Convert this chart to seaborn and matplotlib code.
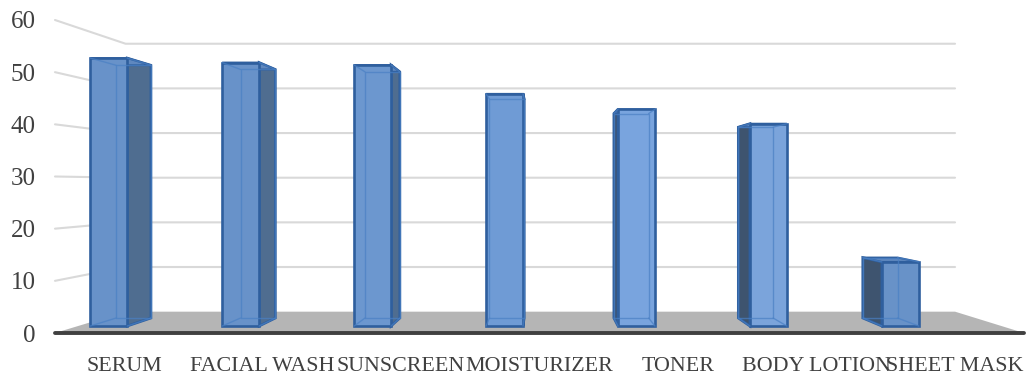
import matplotlib
matplotlib.use("Agg")
import matplotlib.pyplot as plt
import seaborn as sns

categories = ['SERUM', 'FACIAL WASH', 'SUNSCREEN', 'MOISTURIZER', 'TONER', 'BODY LOTION', 'SHEET MASK']
values = [53.9, 53.0, 52.5, 46.7, 43.6, 40.7, 12.9]
y_ticks = [0, 10, 20, 30, 40, 50, 60]
front_colors = ['#6892C9', '#6892C9', '#6C97CF', '#6F9BD5', '#79A4DE', '#7BA4DB', '#6892C8']

sns.set_style("white")
plt.rcParams['font.family'] = ['Liberation Serif', 'DejaVu Serif']

# perspective of the fake 3D box, in data units of the front plane
VP_X, VP_Y = 3.04, 28.4
BACK_WALL = 0.856
BAR_FRONT = 0.953
BAR_BACK = 0.899
BAR_SHIFT = -0.267
BAR_WIDTH = 0.28


def depth(x, y, s):
    return VP_X + (x - VP_X) * s, VP_Y + (y - VP_Y) * s


fig = plt.figure(figsize=(10.28, 3.74), dpi=100)
ax = fig.add_axes([55 / 1028, 41 / 374, 969 / 1028, 313 / 374])

sns.barplot(x=categories, y=values, ax=ax, width=BAR_WIDTH, saturation=1, color='#6892C9')
bars = list(ax.patches)
ax.set_xlim(-0.5, 6.5)
ax.set_ylim(0, 60)
ax.set_yticks(y_ticks)
ax.set_xlabel('')
ax.set_ylabel('')
sns.despine(ax=ax, left=True, bottom=True, top=True, right=True)
ax.tick_params(axis='x', length=0, labelsize=15.8, labelcolor='#404040', pad=17)
ax.tick_params(axis='y', length=0, labelsize=18, labelcolor='#404040', pad=14)

# floor
floor = [depth(-0.5, 0, 1), depth(6.5, 0, 1), depth(6.5, 0, BACK_WALL), depth(-0.5, 0, BACK_WALL)]
ax.fill(*zip(*floor), color='#B5B5B5', lw=0, zorder=1, clip_on=False)

# walls + gridlines
for v in y_ticks[1:]:
    pts = [depth(-0.5, v, 1), depth(-0.5, v, BACK_WALL), depth(6.5, v, BACK_WALL)]
    ax.plot(*zip(*pts), color='#D9D9D9', lw=1.5, zorder=1.5, clip_on=False)
ax.plot([-0.5, 6.5], [0, 0], color='#404040', lw=2.8, zorder=2, clip_on=False, solid_capstyle='round')

EDGE = '#2F5F9E'
INNER = '#4A80C4'

for i, patch in enumerate(bars):
    v = values[i]
    x0 = i + BAR_SHIFT - BAR_WIDTH / 2
    x1 = i + BAR_SHIFT + BAR_WIDTH / 2
    fl, fb = depth(x0, 0, BAR_FRONT)
    fr, ft = depth(x1, v, BAR_FRONT)
    bl, bb = depth(x0, 0, BAR_BACK)
    br, bt = depth(x1, v, BAR_BACK)

    # side faces, only the one that can be seen
    if br > fr:
        side = [(fr, fb), (br, bb), (br, bt), (fr, ft)]
        ax.fill(*zip(*side), facecolor='#4F6D90', edgecolor=EDGE, lw=1.9, zorder=3, clip_on=False)
    if bl < fl:
        side = [(fl, fb), (bl, bb), (bl, bt), (fl, ft)]
        ax.fill(*zip(*side), facecolor='#3E546F', edgecolor=EDGE, lw=1.9, zorder=3, clip_on=False)
    top = [(fl, ft), (fr, ft), (br, bt), (bl, bt)]
    ax.fill(*zip(*top), facecolor='#5F88BF', edgecolor=EDGE, lw=1.4, zorder=3, clip_on=False)

    patch.set_xy((fl, fb))
    patch.set_width(fr - fl)
    patch.set_height(ft - fb)
    patch.set_facecolor(front_colors[i])
    patch.set_edgecolor(EDGE)
    patch.set_linewidth(1.9)
    patch.set_zorder(4)
    patch.set_clip_on(False)

    # back edges seen through the front face
    ax.plot([bl, bl, br, br, bl], [bb, bt, bt, bb, bb], color=INNER, lw=1, alpha=0.7, zorder=5, clip_on=False)
    for a, b, c, d in [(fl, bl, fb, bb), (fr, br, fb, bb), (fl, bl, ft, bt), (fr, br, ft, bt)]:
        ax.plot([a, b], [c, d], color=INNER, lw=1, alpha=0.7, zorder=5, clip_on=False)

fig.savefig('out.png', dpi=100)
